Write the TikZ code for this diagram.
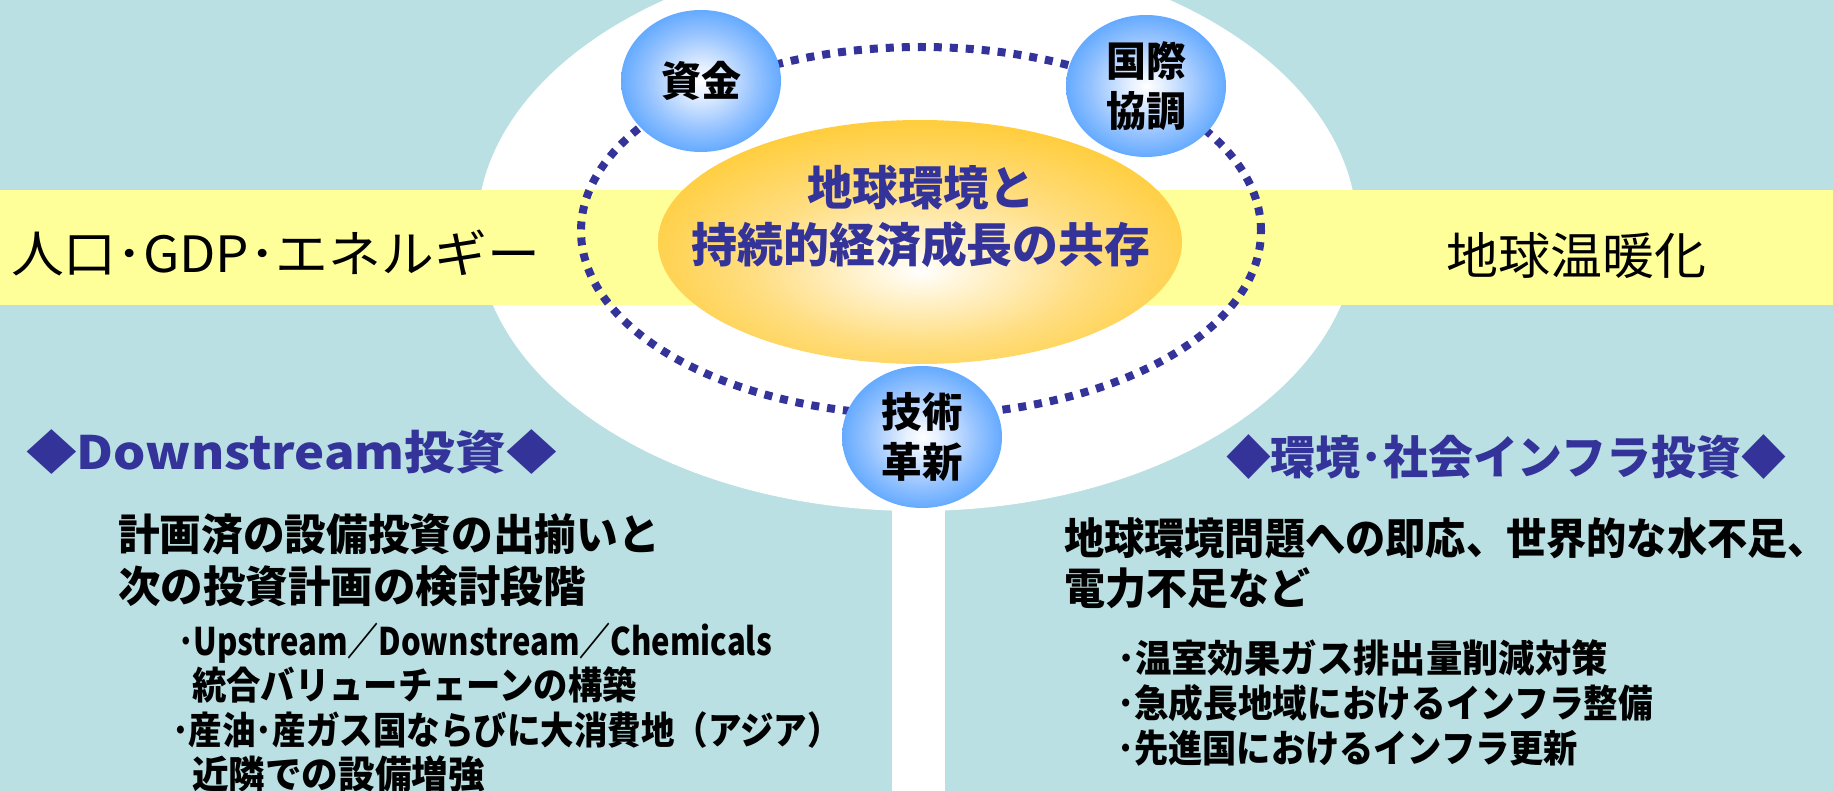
\documentclass[tikz,border=0pt]{standalone}
\usepackage{fontspec}
\usepackage{graphicx}
\setmainfont{Noto Sans CJK JP}
\usetikzlibrary{shapes.geometric}
\definecolor{bgc}{RGB}{186,224,227}
\definecolor{bandc}{RGB}{255,255,153}
\definecolor{navy}{RGB}{51,51,153}
\definecolor{goldE}{RGB}{255,190,0}
\definecolor{goldM}{RGB}{255,200,40}
\definecolor{goldL}{RGB}{255,222,130}
\definecolor{goldW}{RGB}{255,246,220}
\definecolor{blueE}{RGB}{40,138,250}
\definecolor{blueM}{RGB}{70,155,255}
\definecolor{blueL}{RGB}{150,195,255}
\definecolor{blueW}{RGB}{230,240,255}
\pgfdeclareradialshading{orangeball}{\pgfpoint{0bp}{-6bp}}{color(0bp)=(white); color(4bp)=(goldW); color(16bp)=(goldL); color(32bp)=(goldM); color(44bp)=(goldE); color(70bp)=(goldE)}
\pgfdeclareradialshading{blueball}{\pgfpoint{0bp}{0bp}}{color(0bp)=(white); color(5bp)=(blueW); color(17bp)=(blueL); color(30bp)=(blueM); color(42bp)=(blueE); color(70bp)=(blueE)}
\newcommand\fitw[2]{\resizebox{#1pt}{\height}{#2}}
\tikzset{
  txt/.style={inner sep=0pt, outer sep=0pt, anchor=west},
  blk/.style={txt, font=\fontsize{43pt}{50pt}\selectfont\bfseries},
  sub/.style={txt, font=\fontsize{38pt}{44pt}\selectfont\bfseries},
  head/.style={txt, text=navy, font=\fontsize{46pt}{52pt}\selectfont\bfseries},
  bandtxt/.style={txt, font=\fontsize{50pt}{56pt}\selectfont},
  ball/.style={ellipse, inner sep=0pt, minimum width=160pt, minimum height=142pt, shading=blueball, align=center, font=\fontsize{41pt}{50pt}\selectfont\bfseries},
  ringstyle/.style={ellipse, draw=navy, line width=8pt, dash pattern=on 8pt off 8pt, inner sep=0pt, minimum width=680pt, minimum height=368pt},
}
\begin{document}
\begin{tikzpicture}[x=1pt,y=-1pt]
\useasboundingbox (0,0) rectangle (1833,791);
\clip (0,0) rectangle (1833,791);
\fill[bgc] (0,0) rectangle (1833,791);
% white ellipse and stem
\fill[white] (917,230) ellipse [x radius=440pt, y radius=281pt];
\fill[white] (892,480) rectangle (945,791);
% yellow band
\fill[bandc] (0,190) rectangle (1833,305);
% dotted ring
\node[ringstyle] (ring) at (921,231) {};
% core ellipse
\node[ellipse, inner sep=0pt, minimum width=524pt, minimum height=244pt, shading=orangeball] (core) at (920,242) {};
\node[inner sep=0pt, align=center, text=navy, font=\fontsize{47pt}{57pt}\selectfont\bfseries] (coretxt) at (921,216) {\fitw{227}{地球環境と}\\\fitw{459}{持続的経済成長の共存}};
% balls
\node[ball] (fund) at (701,81) {\fitw{80}{資金}};
\node[ball] (intl) at (1146,86) {\fitw{80}{国際}\\\fitw{80}{協調}};
\node[ball] (tech) at (922,437) {\fitw{81}{技術}\\\fitw{81}{革新}};
% band texts
\node[bandtxt] (pop) at (11,253) {\fitw{529}{人口･GDP･エネルギー}};
\node[bandtxt] (warm) at (1446,256) {\fitw{260}{地球温暖化}};
% headings
\node[head] (h1) at (26,452) {\fitw{531}{◆Downstream投資◆}};
\node[head] (h2) at (1226,457) {\fitw{560}{◆環境･社会インフラ投資◆}};
% left block
\node[blk] (a1) at (118,534) {\fitw{542}{計画済の設備投資の出揃いと}};
\node[blk] (a2) at (118,586) {\fitw{468}{次の投資計画の検討段階}};
\node[sub] (b1) at (178,643) {\fitw{594}{･Upstream／Downstream／Chemicals}};
\node[sub] (b2) at (192,685) {\fitw{445}{統合バリューチェーンの構築}};
\node[sub] (b3) at (172,730) {\fitw{669}{･産油･産ガス国ならびに大消費地（アジア）}};
\node[sub] (b4) at (192,774) {\fitw{293}{近隣での設備増強}};
% right block
\node[blk] (r1) at (1064,538) {\fitw{764}{地球環境問題への即応、世界的な水不足、}};
\node[blk] (r2) at (1064,588) {\fitw{246}{電力不足など}};
\node[sub] (c1) at (1117,658) {\fitw{491}{･温室効果ガス排出量削減対策}};
\node[sub] (c2) at (1117,703) {\fitw{536}{･急成長地域におけるインフラ整備}};
\node[sub] (c3) at (1117,748) {\fitw{461}{･先進国におけるインフラ更新}};
\end{tikzpicture}
\end{document}
